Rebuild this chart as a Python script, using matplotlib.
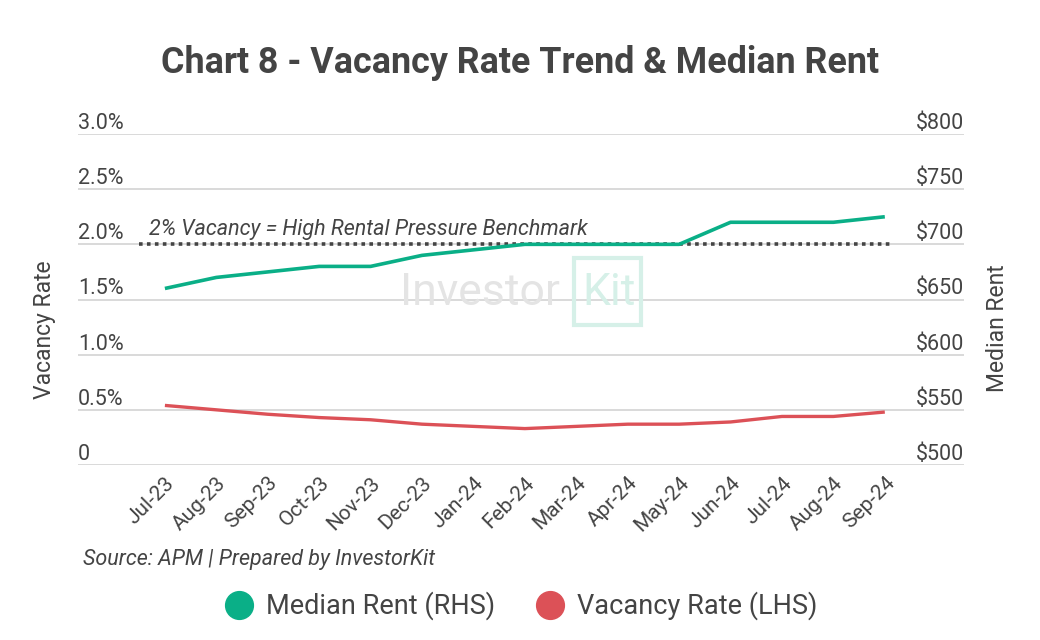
import numpy as np
import matplotlib.pyplot as plt
from matplotlib.lines import Line2D
from matplotlib.patches import Rectangle

plt.rcParams['font.family'] = ['Roboto', 'DejaVu Sans']

# data
months = ["Jul-23", "Aug-23", "Sep-23", "Oct-23", "Nov-23", "Dec-23", "Jan-24",
          "Feb-24", "Mar-24", "Apr-24", "May-24", "Jun-24", "Jul-24", "Aug-24", "Sep-24"]
median_rent = [660, 670, 675, 680, 680, 690, 695, 700, 700, 700, 700, 720, 720, 720, 725]
vacancy_rate = [0.54, 0.50, 0.46, 0.43, 0.41, 0.37, 0.35, 0.33, 0.35, 0.37, 0.37, 0.39, 0.44, 0.44, 0.48]
left_ticks = [0, 0.5, 1.0, 1.5, 2.0, 2.5, 3.0]
left_labels = ["0", "0.5%", "1.0%", "1.5%", "2.0%", "2.5%", "3.0%"]
right_ticks = [500, 550, 600, 650, 700, 750, 800]
right_labels = ["$" + str(v) for v in right_ticks]
benchmark = 2.0

green = "#0aaf87"
red = "#dc5157"
text_col = "#444444"
grid_col = "#d9d9d9"

fig = plt.figure(figsize=(10.4, 6.4), dpi=100)
W, H = 1040, 640
# axes spans gridlines: x 78..964, y 134..465 (pixels)
ax = fig.add_axes([78 / W, 1 - 465 / H, (964 - 78) / W, (465 - 134) / H])
ax2 = ax.twinx()

x = np.arange(len(months))
ax.set_xlim(-1.69, 15.54)
ax.set_ylim(0, 3.0)
ax2.set_ylim(500, 800)

# grid lines
for t in left_ticks:
    ax.axhline(t, color=grid_col, lw=1.4, zorder=0)

# benchmark
ax.plot([-0.5, 14.1], [benchmark, benchmark], color="#444444", lw=2.6,
        linestyle=(0, (1, 1.2)), zorder=2)
ax.text(-0.3, benchmark + 0.04, "2% Vacancy = High Rental Pressure Benchmark",
        fontsize=15.5, style="italic", color=text_col, ha="left", va="bottom")

ax.plot(x, vacancy_rate, color=red, lw=2.4, solid_joinstyle="round",
        solid_capstyle="butt", zorder=3)
ax2.plot(x, median_rent, color=green, lw=2.6, solid_joinstyle="round",
         solid_capstyle="butt", zorder=3)

# watermark
fig.text(400 / W, 1 - 293 / H, "Investor", fontsize=32, color="#e4e4e4",
         ha="left", va="center", zorder=0)
fig.text(582 / W, 1 - 293 / H, "Kit", fontsize=32, color="#d6f0e8",
         ha="left", va="center", zorder=0)
fig.patches.append(Rectangle((574 / W, 1 - 325 / H), 67 / W, 67 / H,
                             transform=fig.transFigure, fill=False,
                             edgecolor="#d6f0e8", lw=3, zorder=0))

# ticks
ax.set_yticks(left_ticks)
ax.set_yticklabels(left_labels)
ax.tick_params(axis="y", length=0, pad=0, labelsize=15.5, labelcolor=text_col)
for lab in ax.get_yticklabels():
    lab.set_horizontalalignment("left")
    lab.set_verticalalignment("bottom")
ax2.set_yticks(right_ticks)
ax2.set_yticklabels(right_labels)
ax2.tick_params(axis="y", length=0, pad=0, labelsize=15.5, labelcolor=text_col)
for lab in ax2.get_yticklabels():
    lab.set_horizontalalignment("right")
    lab.set_verticalalignment("bottom")

ax.set_xticks(x)
ax.set_xticklabels(months, rotation=45, ha="right", va="top",
                   rotation_mode="anchor")
ax.tick_params(axis="x", length=0, pad=6, labelsize=15, labelcolor=text_col)

for a in (ax, ax2):
    for s in a.spines.values():
        s.set_visible(False)

fig.text(45 / W, 1 - 330 / H, "Vacancy Rate", rotation=90, fontsize=16.5,
         color=text_col, ha="center", va="center")
fig.text(997 / W, 1 - 328 / H, "Median Rent", rotation=90, fontsize=16.5,
         color=text_col, ha="center", va="center")

fig.text(0.5, 1 - 63 / H, "Chart 8 - Vacancy Rate Trend & Median Rent",
         fontsize=25.8, fontweight="bold", color=text_col, ha="center", va="center")
fig.text(83 / W, 1 - 560 / H, "Source: APM | Prepared by InvestorKit",
         fontsize=15.5, style="italic", color=text_col, ha="left", va="center")

handles = [Line2D([], [], marker="o", color="none", markerfacecolor=green,
                  markeredgecolor=green, markersize=20),
           Line2D([], [], marker="o", color="none", markerfacecolor=red,
                  markeredgecolor=red, markersize=20)]
fig.legend(handles, ["Median Rent (RHS)", "Vacancy Rate (LHS)"],
           loc="center", bbox_to_anchor=(0.5, 1 - 606 / H), ncol=2,
           frameon=False, fontsize=19.5, labelcolor=text_col,
           handletextpad=0.4, columnspacing=1.4, handlelength=1.2)

fig.savefig("out.png", dpi=100)
